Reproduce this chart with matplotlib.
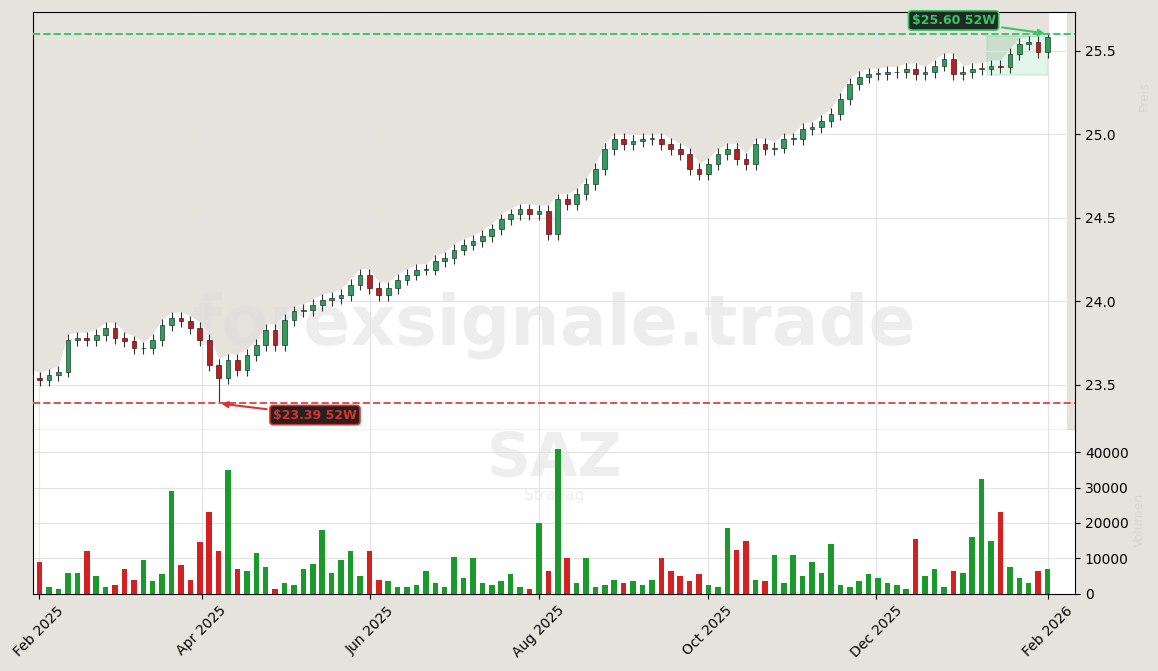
import matplotlib
matplotlib.use("Agg")
import matplotlib.pyplot as plt
import matplotlib.dates as mdates
from matplotlib.patches import Rectangle
import numpy as np
import pandas as pd

closes = [23.54,23.53,23.56,23.58,23.77,23.78,23.77,23.80,23.84,23.78,
          23.76,23.72,23.72,23.77,23.86,23.90,23.88,23.84,23.77,23.62,
          23.54,23.65,23.59,23.68,23.74,23.83,23.74,23.89,23.94,23.95,
          23.98,24.01,24.02,24.04,24.10,24.16,24.08,24.04,24.08,24.13,
          24.16,24.19,24.19,24.24,24.26,24.31,24.34,24.36,24.39,24.43,
          24.49,24.52,24.55,24.52,24.54,24.40,24.61,24.58,24.64,24.70,
          24.79,24.91,24.97,24.94,24.96,24.97,24.97,24.94,24.91,24.88,
          24.79,24.76,24.82,24.88,24.91,24.85,24.82,24.94,24.91,24.92,
          24.97,24.97,25.03,25.04,25.08,25.12,25.21,25.30,25.34,25.36,
          25.36,25.37,25.37,25.39,25.36,25.37,25.41,25.45,25.36,25.37,
          25.39,25.39,25.41,25.40,25.48,25.54,25.55,25.49,25.58]
volumes = [5000,9000,2000,1500,6000,6000,12000,5000,2000,2500,
           7000,4000,9500,3500,5500,29000,8000,4000,14500,23000,
           12000,35000,7000,6500,11500,7500,1500,3000,2500,7000,
           8500,18000,6000,9500,12000,5000,12000,4000,3500,2000,
           2000,2500,6500,3000,2000,10500,4500,10000,3000,2500,
           3500,5500,2000,1500,20000,6500,41000,10000,3000,10000,
           2000,2500,4000,3000,3500,2500,4000,10000,6500,5000,
           3500,5500,2500,2000,18500,12500,15000,4000,3500,11000,
           3000,11000,5000,9000,6000,14000,2500,2000,3500,5500,
           4500,3000,2500,1500,15500,5000,7000,2000,6500,6000,
           16000,32500,15000,23000,7500,4500,3000,6500,7000]
first_open = 23.56
wick = 0.035
low_52w = 23.39
low_idx = 20
high_52w = 25.60
tick_labels = ["Feb 2025","Apr 2025","Jun 2025","Aug 2025","Oct 2025","Dec 2025","Feb 2026"]

dates = pd.date_range("2025-01-29", "2026-02-01", periods=len(closes))
opens = [first_open] + closes[:-1]
highs = [max(o, c) + wick for o, c in zip(opens, closes)]
lows = [min(o, c) - wick for o, c in zip(opens, closes)]
lows[low_idx] = low_52w
highs[-1] = high_52w

BEIGE = "#e6e3dc"
fig = plt.figure(figsize=(11.58, 6.71), dpi=100, facecolor=BEIGE)
ax = fig.add_axes([0.0285, 0.359, 0.9, 0.623])
axv = fig.add_axes([0.0285, 0.115, 0.9, 0.244], sharex=ax)
ymin, ymax = 23.23, 25.73
ax.set_facecolor("white")
ax.fill_between(dates, highs, ymax, color=BEIGE, zorder=0, lw=0)
ax.axvspan(dates[-1] + pd.Timedelta(days=7), pd.Timestamp("2026-02-12"), color=BEIGE, zorder=0, lw=0)

xd = mdates.date2num(dates)
w = 1.7
for x, o, h, l, c in zip(xd, opens, highs, lows, closes):
    up = c >= o
    col = "#2e9e5b" if up else "#b22222"
    ax.vlines(x, l, h, color="#333333", lw=0.8, zorder=2)
    ax.add_patch(Rectangle((x - w/2, min(o, c)), w, max(abs(c - o), 0.004),
                           facecolor=col, edgecolor="#1f3a2a" if up else "#5a1010", lw=0.5, zorder=3))

ax.axhline(high_52w, color="#3cc46a", ls="--", lw=1.4, zorder=4)
ax.axhline(low_52w, color="#d9534f", ls="--", lw=1.4, zorder=4)
ax.annotate(f"${high_52w:.2f} 52W", xy=(xd[-1], high_52w), xytext=(pd.Timestamp("2025-12-29"), 25.68),
            color="#3cc46a", fontsize=9, fontweight="bold", ha="center", va="center",
            bbox=dict(boxstyle="round,pad=0.25", fc="#1e2a22", ec="#3cc46a", lw=1.2),
            arrowprops=dict(arrowstyle="-|>", color="#3cc46a", lw=1.5), zorder=6)
ax.annotate(f"${low_52w:.2f} 52W", xy=(xd[low_idx], low_52w), xytext=(pd.Timestamp("2025-05-12"), 23.32),
            color="#d9342f", fontsize=9, fontweight="bold", ha="center", va="center",
            bbox=dict(boxstyle="round,pad=0.25", fc="#2a1e1e", ec="#d9342f", lw=1.2),
            arrowprops=dict(arrowstyle="-|>", color="#d9342f", lw=1.5), zorder=6)
n4 = 6
bx0 = xd[-n4-1]
ax.add_patch(Rectangle((bx0 - 1.5, min(lows[-n4-1:-1])), xd[-1] - bx0 + 1.5, max(highs[-n4-1:-1]) - min(lows[-n4-1:-1]),
                       facecolor="#3cc46a", alpha=0.15, edgecolor="#3cc46a", lw=1.5, zorder=1))

ax.text(0.5, 0.25, "forexsignale.trade", transform=ax.transAxes, fontsize=50, fontweight="bold",
        color="#dddddd", alpha=0.5, ha="center", va="center", zorder=1)
ax.set_ylim(ymin, ymax)
ax.yaxis.tick_right()
ax.set_yticks([23.5, 24.0, 24.5, 25.0, 25.5])
ax.grid(True, color="#e3e3e3", lw=0.8, zorder=0)
ax.tick_params(axis="x", labelbottom=False, length=0)
ax.tick_params(axis="y", labelsize=10)
ax.text(1.06, 0.8, "Preis", transform=ax.transAxes, rotation=90, color="#d8d6d0", fontsize=9, va="center")

vcols = ["#1a9a2a" if c >= o else "#d42020" for o, c in zip(opens, closes)]
axv.bar(dates, volumes, width=2.0, color=vcols, zorder=3)
axv.set_ylim(0, 46200)
axv.yaxis.tick_right()
axv.set_yticks([0, 10000, 20000, 30000, 40000])
axv.grid(True, color="#e3e3e3", lw=0.8, zorder=0)
axv.text(0.5, 0.82, "SAZ", transform=axv.transAxes, fontsize=44, fontweight="bold", color="#eeeeee",
         ha="center", va="center", zorder=1)
axv.text(0.5, 0.6, "Strabag", transform=axv.transAxes, fontsize=11, color="#eeeeee",
         ha="center", va="center", zorder=1)
axv.text(1.055, 0.45, "Volumen", transform=axv.transAxes, rotation=90, color="#d8d6d0", fontsize=9, va="center")
axv.spines["top"].set_visible(False)
tick_dates = pd.date_range("2025-02-01", "2026-02-01", freq="2MS")
axv.set_xticks(tick_dates)
axv.set_xticklabels(tick_labels, rotation=45, ha="center", fontsize=10)
axv.set_xlim(pd.Timestamp("2025-01-30"), pd.Timestamp("2026-02-11"))
axv.tick_params(axis="y", labelsize=10)

fig.savefig("out.png", dpi=100, facecolor=BEIGE)
